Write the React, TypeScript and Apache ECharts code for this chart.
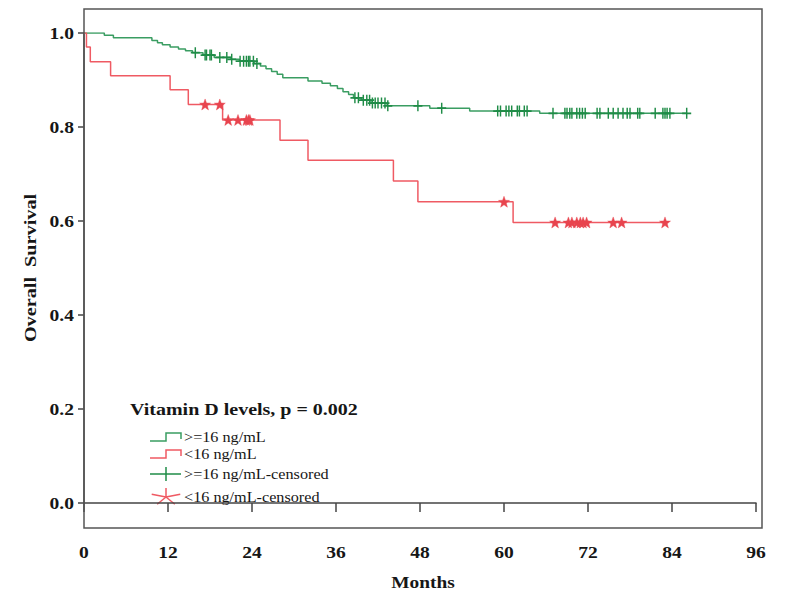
import React, { useEffect, useRef } from "react";
import * as echarts from "echarts";

// ---------- data ----------
const xTicks = [0, 12, 24, 36, 48, 60, 72, 84, 96];
const yTicks = [0, 0.2, 0.4, 0.6, 0.8, 1.0];

const legendTitle = "Vitamin D levels, p = 0.002";
const seriesNames = [">=16 ng/mL", "<16 ng/mL", ">=16 ng/mL-censored", "<16 ng/mL-censored"];
const xTitle = "Months";
const yTitle = "Overall  Survival";

// Kaplan-Meier steps: [month, survival after the event]
const highSteps: [number, number][] = [
  [0, 1.0], [2.9, 0.995], [4.2, 0.99], [9.7, 0.984], [10.5, 0.979], [11.2, 0.975],
  [12.3, 0.97], [13.5, 0.966], [14.5, 0.962], [15.5, 0.958], [17.0, 0.953], [18.6, 0.948],
  [21.0, 0.944], [22.2, 0.94], [24.3, 0.935], [25.2, 0.93], [26.0, 0.924], [26.8, 0.918],
  [27.6, 0.912], [28.4, 0.905], [32.0, 0.898], [34.0, 0.893], [35.2, 0.888], [36.2, 0.882],
  [37.0, 0.875], [37.8, 0.869], [38.5, 0.862], [39.6, 0.857], [41.0, 0.851], [43.3, 0.845],
  [49.4, 0.84], [55.1, 0.834], [65.1, 0.829],
];
const highEnd = 86.1;
const highCensored = [
  15.9, 17.3, 17.5, 18.0, 18.2, 19.4, 20.4, 21.1, 22.3, 22.8, 23.2, 23.5, 23.7, 24.2, 24.7,
  38.7, 39.2, 39.9, 40.4, 40.8, 41.2, 41.6, 42.0, 42.5, 43.0, 43.4, 47.7, 51.1,
  59.1, 59.5, 60.3, 60.7, 61.1, 61.9, 62.2, 62.9, 63.3, 67.0, 68.7, 69.0, 69.4, 69.7,
  70.4, 70.8, 71.2, 71.6, 73.3, 73.7, 74.9, 75.6, 76.3, 77.0, 77.6, 78.0, 79.1, 79.4,
  81.6, 82.7, 83.0, 83.3, 83.7, 86.1,
];

const lowSteps: [number, number][] = [
  [0, 1.0], [0.35, 0.97], [0.9, 0.939], [3.8, 0.909], [12.3, 0.879], [14.9, 0.848],
  [19.8, 0.815], [28.0, 0.772], [32.0, 0.729], [44.2, 0.685], [47.7, 0.641], [61.3, 0.597],
];
const lowEnd = 83.0;
const lowCensored = [
  17.3, 19.4, 20.6, 22.0, 23.2, 23.5, 23.7, 60.0, 67.3, 69.2, 69.7, 70.4, 70.9, 71.3,
  71.8, 75.6, 76.8, 83.0,
];

// ---------- helpers ----------
const GREEN_LINE = "#3a9d62";
const GREEN_MARK = "#1f8c47";
const RED_LINE = "#ef5a63";
const RED_MARK = "#e8444e";
const FONT = "'Liberation Serif', 'Times New Roman', serif";
const TXT = "#161616";

function survAt(steps: [number, number][], t: number) {
  let s = steps[0][1];
  for (const [tt, v] of steps) if (tt <= t) s = v;
  return s;
}
function curve(steps: [number, number][], end: number) {
  const d = steps.map((p) => [p[0], p[1]]);
  d.push([end, steps[steps.length - 1][1]]);
  return d;
}
function starPath() {
  const pts: string[] = [];
  for (let i = 0; i < 10; i++) {
    const r = i % 2 === 0 ? 5 : 2.1;
    const a = -Math.PI / 2 + (i * Math.PI) / 5;
    pts.push(`${(5 + r * Math.cos(a)).toFixed(2)},${(5 + r * Math.sin(a)).toFixed(2)}`);
  }
  return "path://M" + pts.join(" L") + " Z";
}

export default function App() {
  const ref = useRef<HTMLDivElement>(null);
  useEffect(() => {
    document.body.style.margin = "0";
    const chart = echarts.init(ref.current!, undefined, { renderer: "svg" });

    chart.setOption({
      animation: false,
      backgroundColor: "#fff",
      grid: { left: 84, right: 36, top: 33, bottom: 96, containLabel: false },
      xAxis: {
        type: "value", min: xTicks[0], max: xTicks[xTicks.length - 1], interval: 12,
        offset: 25,
        axisLine: { show: true, lineStyle: { color: "#444", width: 1.5 } },
        axisTick: { show: true, length: 9, lineStyle: { color: "#444", width: 1.5 } },
        axisLabel: { show: false },
        splitLine: { show: false },
      },
      yAxis: {
        type: "value", min: yTicks[0], max: yTicks[yTicks.length - 1], interval: 0.2,
        axisLine: { show: true, lineStyle: { color: "#444", width: 1.5 } },
        axisTick: { show: true, length: 6, lineStyle: { color: "#444", width: 1.5 } },
        axisLabel: { show: false },
        splitLine: { show: false },
      },
      series: [
        {
          name: seriesNames[0], type: "line", step: "end", showSymbol: false,
          data: curve(highSteps, highEnd), lineStyle: { color: GREEN_LINE, width: 1.5 }, z: 2,
        },
        {
          name: seriesNames[1], type: "line", step: "end", showSymbol: false,
          data: curve(lowSteps, lowEnd), lineStyle: { color: RED_LINE, width: 1.5 }, z: 2,
        },
        {
          name: seriesNames[2], type: "scatter",
          data: highCensored.map((t) => [t, survAt(highSteps, t)]),
          symbol: "path://M5,0 L5,10 M0,5 L10,5", symbolSize: [9, 11],
          itemStyle: { color: "none", borderColor: GREEN_MARK, borderWidth: 1.6, opacity: 1 }, z: 3,
        },
        {
          name: seriesNames[3], type: "scatter",
          data: lowCensored.map((t) => [t, survAt(lowSteps, t)]),
          symbol: starPath(), symbolSize: 11,
          itemStyle: { color: RED_MARK, borderColor: RED_MARK, borderWidth: 0.4, opacity: 1 }, z: 3,
        },
      ],
    });

    const g: any[] = [
      {
        type: "rect", shape: { x: 84, y: 9, width: 678, height: 519 },
        style: { fill: "none", stroke: "#555", lineWidth: 1.5 }, z: 100,
      },
    ];
    // tick labels via the axes' own scales
    xTicks.forEach((v) => {
      const px = chart.convertToPixel({ xAxisIndex: 0 }, v) as number;
      g.push({
        type: "text", x: px, y: 552, scaleX: 1.15,
        style: { text: String(v), font: `bold 17px ${FONT}`, fill: TXT, align: "center", verticalAlign: "middle" },
      });
    });
    yTicks.forEach((v) => {
      const py = chart.convertToPixel({ yAxisIndex: 0 }, v) as number;
      g.push({
        type: "text", x: 74, y: py, scaleX: 1.15,
        style: { text: v.toFixed(1), font: `bold 17px ${FONT}`, fill: TXT, align: "right", verticalAlign: "middle" },
      });
    });
    g.push({
      type: "text", x: 423, y: 582, scaleX: 1.14,
      style: { text: xTitle, font: `bold 17px ${FONT}`, fill: TXT, align: "center", verticalAlign: "middle" },
    });
    g.push({
      type: "text", x: 30, y: 268, rotation: Math.PI / 2, scaleX: 1.19,
      style: { text: yTitle, font: `bold 17px ${FONT}`, fill: TXT, align: "center", verticalAlign: "middle" },
    });

    // legend
    const rowY = [437, 454, 474, 497];
    const ix = 150;
    g.push({
      type: "text", x: 130, y: 410, scaleX: 1.25,
      style: { text: legendTitle, font: `bold 16px ${FONT}`, fill: TXT, align: "left", verticalAlign: "middle" },
    });
    g.push({
      type: "polyline",
      shape: { points: [[ix, rowY[0] + 4], [ix + 16, rowY[0] + 4], [ix + 16, rowY[0] - 4], [ix + 31, rowY[0] - 4], [ix + 31, rowY[0] + 2]] },
      style: { stroke: GREEN_LINE, lineWidth: 1.5, fill: "none" },
    });
    g.push({
      type: "polyline",
      shape: { points: [[ix, rowY[1] + 4], [ix + 16, rowY[1] + 4], [ix + 16, rowY[1] - 4], [ix + 31, rowY[1] - 4], [ix + 31, rowY[1] + 2]] },
      style: { stroke: RED_LINE, lineWidth: 1.5, fill: "none" },
    });
    g.push({ type: "line", shape: { x1: ix, y1: rowY[2], x2: ix + 31, y2: rowY[2] }, style: { stroke: GREEN_MARK, lineWidth: 1.5 } });
    g.push({ type: "line", shape: { x1: ix + 16, y1: rowY[2] - 7, x2: ix + 16, y2: rowY[2] + 7 }, style: { stroke: GREEN_MARK, lineWidth: 1.5 } });
    const cx = ix + 16, cy = rowY[3];
    for (let i = 0; i < 5; i++) {
      const a = -Math.PI / 2 + (i * 2 * Math.PI) / 5;
      g.push({
        type: "line",
        shape: { x1: cx, y1: cy, x2: cx + 15 * Math.cos(a), y2: cy + 9 * Math.sin(a) },
        style: { stroke: RED_LINE, lineWidth: 1.5 },
      });
    }
    seriesNames.forEach((n, i) => {
      g.push({
        type: "text", x: 184, y: rowY[i], scaleX: 1.08,
        style: { text: n, font: `15px ${FONT}`, fill: TXT, align: "left", verticalAlign: "middle" },
      });
    });

    chart.setOption({ graphic: g });
    return () => chart.dispose();
  }, []);
  return <div ref={ref} style={{ position: "fixed", left: 0, top: 0, width: 792, height: 599 }} />;
}
